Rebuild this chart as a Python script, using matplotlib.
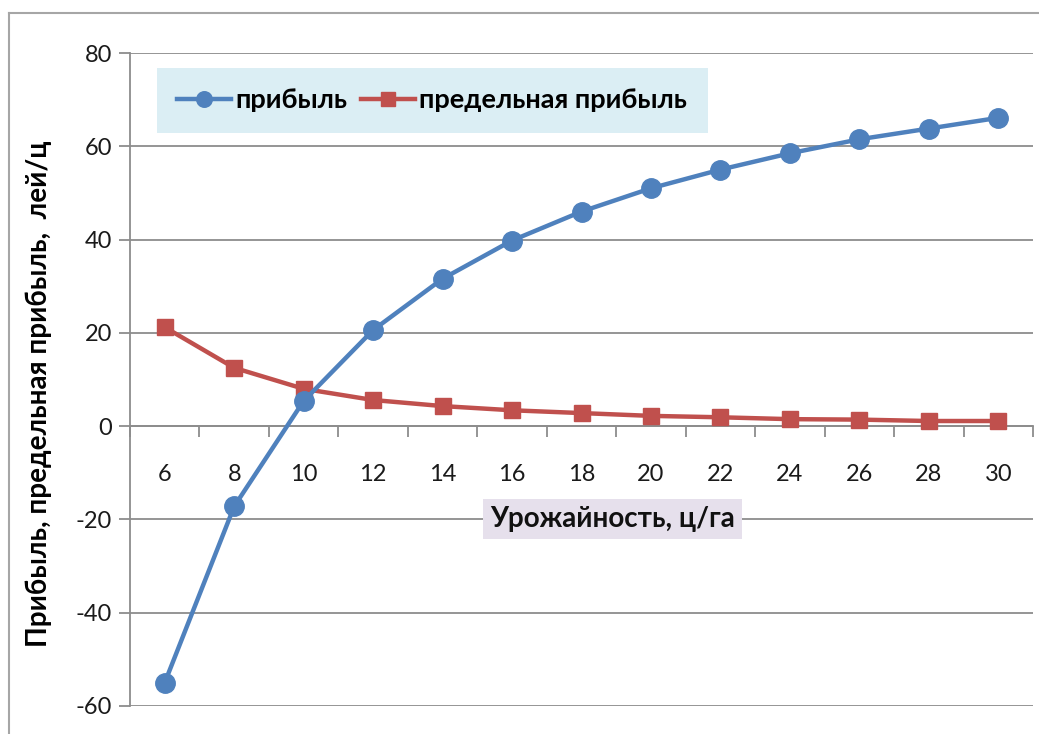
import matplotlib.pyplot as plt
import numpy as np
from matplotlib.lines import Line2D

# урожайность, ц/га
urozhai = [6, 8, 10, 12, 14, 16, 18, 20, 22, 24, 26, 28, 30]
pribyl = [-55, -17.2, 5.4, 20.6, 31.6, 39.8, 46, 51, 55, 58.5, 61.5, 63.8, 66.1]
pred_pribyl = [21.2, 12.5, 8, 5.6, 4.3, 3.4, 2.8, 2.2, 1.9, 1.5, 1.4, 1.1, 1.1]

plt.rcParams['font.family'] = ['Lato', 'DejaVu Sans']
plt.rcParams['axes.unicode_minus'] = False

fig = plt.figure(figsize=(10.39, 7.34), dpi=100)
ax = fig.add_axes([130/1039, 1-706/734, (1033-130)/1039, (706-53)/734])

# рамка вокруг диаграммы
fig.add_artist(Line2D([9/1039, 1], [1-13/734, 1-13/734], color='#a6a6a6', lw=1.5))
fig.add_artist(Line2D([9/1039, 9/1039], [0, 1-13/734], color='#a6a6a6', lw=1.5))

x = np.arange(len(urozhai))
ax.plot(x, pribyl, color='#4f81bd', lw=3.2, marker='o', ms=14, label='прибыль', zorder=4)
ax.plot(x, pred_pribyl, color='#c0504d', lw=3.2, marker='s', ms=12, label='предельная прибыль', zorder=3)

ax.set_xlim(-0.5, len(urozhai) - 0.5)
ax.set_ylim(-60, 80)
ax.set_yticks(range(-60, 81, 20))
ax.grid(axis='y', color='#8c8c8c', lw=1.3)
ax.set_axisbelow(True)

for s in ['top', 'right']:
    ax.spines[s].set_visible(False)
ax.spines['left'].set_color('#8c8c8c')
ax.spines['left'].set_linewidth(1.3)
ax.spines['bottom'].set_position(('data', 0))
ax.spines['bottom'].set_color('#8c8c8c')
ax.spines['bottom'].set_linewidth(1.3)

ax.set_xticks(x)
ax.set_xticklabels([str(u) for u in urozhai])
ax.set_xticks(np.arange(-0.5, len(urozhai)), minor=True)
ax.tick_params(axis='x', which='major', length=0, pad=27, labelsize=17, labelcolor='#1a1a1a')
ax.tick_params(axis='x', which='minor', length=8, width=1.3, color='#8c8c8c', direction='out')
ax.tick_params(axis='y', length=8, width=1.3, color='#8c8c8c', labelsize=17, labelcolor='#1a1a1a', pad=5)

ax.set_ylabel('Прибыль, предельная прибыль,  лей/ц', fontsize=20, fontweight='bold', labelpad=0)
ax.yaxis.set_label_coords(-78/903, 0.478)

# подпись оси X на сиреневом фоне
ax.text(6.45, -20, 'Урожайность, ц/га', fontsize=20, fontweight='bold', ha='center', va='center',
        color='#111111', zorder=5,
        bbox=dict(boxstyle='square,pad=0.25', fc='#e6e0ec', ec='none'))

leg = ax.legend(loc='upper left', bbox_to_anchor=(27/903, 1-15/653), borderaxespad=0,
                ncol=2, frameon=True,
                prop={'weight': 'bold', 'size': 19.5}, handlelength=2.0,
                handletextpad=0.15, columnspacing=0.5, borderpad=0.75, fancybox=False,
                markerscale=0.8)
leg.get_frame().set_facecolor('#dbeef4')
leg.get_frame().set_edgecolor('none')
leg.get_frame().set_alpha(1)

fig.savefig('out.png', dpi=100)
